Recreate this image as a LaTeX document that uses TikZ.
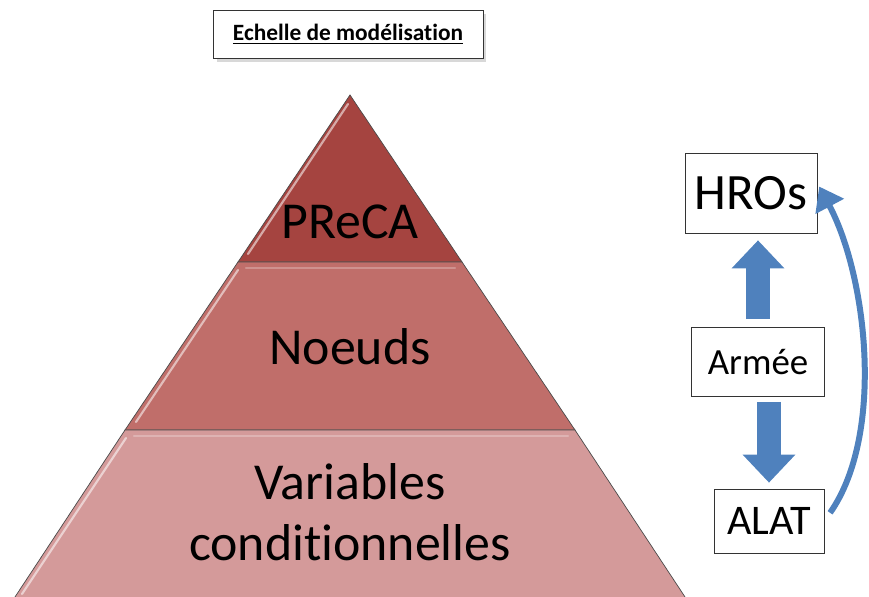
\documentclass[tikz,border=0pt]{standalone}
\usepackage{fontspec}
\setmainfont{Carlito}[Ligatures=NoCommon]
\usepackage{tikz}
\usetikzlibrary{arrows.meta,positioning,shadows}
\definecolor{pyrdark}{HTML}{A54440}
\definecolor{pyrmid}{HTML}{C06E6A}
\definecolor{pyrlight}{HTML}{D49A9A}
\definecolor{pyredge}{HTML}{4A4A4A}
\definecolor{arrblue}{HTML}{4F81BD}

\begin{document}
\begin{tikzpicture}[x=0.02cm,y=-0.02cm,
 scalebox/.style={draw=black!80,thin,fill=white,drop shadow={shadow xshift=2pt,shadow yshift=-2pt,fill=black!30},minimum width=5.4cm,minimum height=0.96cm,font=\fontsize{13.3}{16}\selectfont\bfseries},
 bandlabel/.style={align=center,font=\fontsize{29.5}{35}\selectfont},
 rolebox/.style={draw=black!80,thin,fill=white,inner sep=0pt},
 blockarrow/.style={draw=arrblue,line width=0.48cm,-{Triangle[length=0.56cm,width=1.02cm]}},
 bendarrow/.style={draw=arrblue,line width=0.12cm,-{Triangle[length=0.45cm,width=0.62cm]}},
 gloss/.style={white,opacity=0.55,line width=1.2pt,line cap=round}
]
\useasboundingbox (0,0) rectangle (869,597);
% pyramid bands
\filldraw[fill=pyrdark,draw=pyredge,thin] (350,95) -- (462,262) -- (238,262) -- cycle;
\filldraw[fill=pyrmid,draw=pyredge,thin] (238,262) -- (462,262) -- (575,430) -- (125,430) -- cycle;
\filldraw[fill=pyrlight,draw=pyredge,thin] (125,430) -- (575,430) -- (687,600) -- (13,600) -- cycle;
\draw[gloss] (348,104) -- (248,254);
\draw[gloss] (238,270) -- (136,422);
\draw[gloss] (126,438) -- (22,594);
\draw[gloss,opacity=0.25] (246,268) -- (455,268);
\draw[gloss,opacity=0.25] (134,436) -- (568,436);
\node[bandlabel] (preca) at (350,222) {PReCA};
\node[bandlabel] (noeuds) at (350,347) {Noeuds};
\node[bandlabel] (variables) at (350,512) {Variables\\conditionnelles};
% title
\node[scalebox] (title) at (348,34) {\underline{Echelle de modélisation}};
% actors
\node[rolebox,minimum width=2.64cm,minimum height=1.6cm,font=\fontsize{29}{34}\selectfont] (hros) at (751,193) {HROs};
\node[rolebox,minimum width=2.66cm,minimum height=1.38cm,font=\fontsize{21}{25}\selectfont] (armee) at (758,362) {Armée};
\node[rolebox,minimum width=2.2cm,minimum height=1.28cm,font=\fontsize{24}{29}\selectfont] (alat) at (769,521) {ALAT};
\draw[blockarrow,shorten <=0.16cm,shorten >=0.14cm] (armee.north) -- (armee.north |- hros.south);
\draw[blockarrow,shorten <=0.1cm,shorten >=0.12cm] (alat.north |- armee.south) -- (alat.north);
\draw[bendarrow,shorten <=0.2cm,shorten >=0.08cm] (alat.east) to[out=55,in=-62,looseness=0.8] ([yshift=0.2cm]hros.east);
\end{tikzpicture}
\end{document}
